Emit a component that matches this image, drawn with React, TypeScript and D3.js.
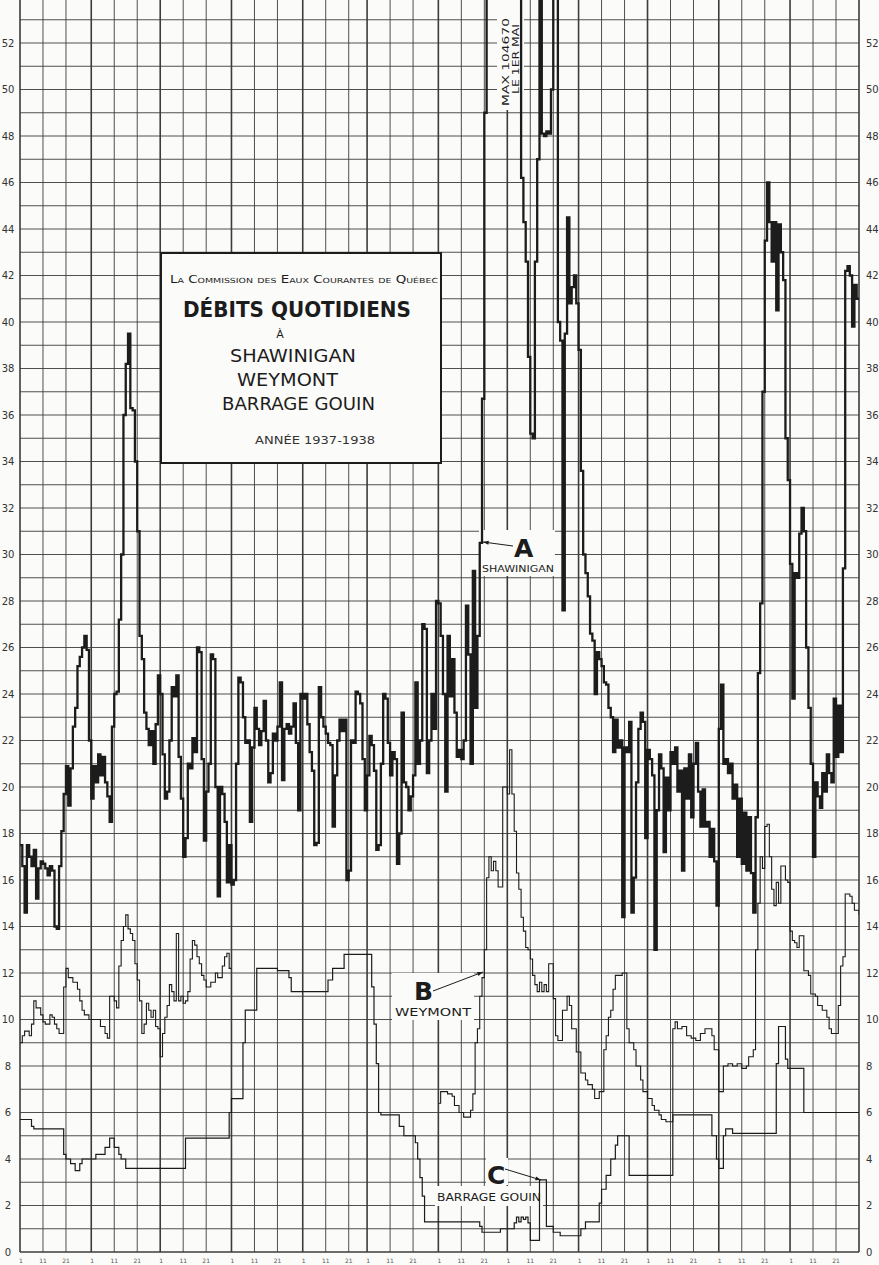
import React from 'react';
import * as d3 from 'd3';

// Day 0 = 1 Oct 1937, day 365 = 1 Oct 1938. Flows in thousands of c.f.s.
const MONTH_STARTS = [0, 31, 61, 92, 123, 151, 182, 212, 243, 273, 304, 335, 365];
const DAY_LABELS = [1, 11, 21];
const Y_LABELS = [0, 2, 4, 6, 8, 10, 12, 14, 16, 18, 20, 22, 24, 26, 28, 30, 32, 34, 36, 38, 40, 42, 44, 46, 48, 50, 52];

// A - Shawinigan (daily, off the chart during the spring flood, max 104670 on 1 May)
const SHAWINIGAN: [number, number][] = [
  [0, 17.5], [1, 16.6], [2, 14.6], [3, 17.5], [4, 17.0], [5, 16.6], [6, 17.3], [7, 15.2], [8, 16.5], [9, 16.8],
  [10, 16.7], [11, 16.5], [12, 16.2], [13, 16.6], [14, 16.4], [15, 14.0], [16, 13.9], [17, 16.6], [18, 18.1], [19, 19.7],
  [20, 20.9], [21, 19.2], [22, 20.8], [23, 22.6], [24, 23.4], [25, 25.2], [26, 25.6], [27, 26.0], [28, 26.5], [29, 25.9],
  [30, 22.0], [31, 19.5], [32, 20.9], [33, 20.2], [34, 21.4], [35, 20.5], [36, 21.3], [37, 20.2], [38, 19.6], [39, 18.5],
  [40, 22.6], [41, 24.0], [42, 24.1], [43, 27.2], [44, 30.0], [45, 36.0], [46, 38.2], [47, 39.5], [48, 36.3], [49, 36.2],
  [50, 34.0], [51, 31.0], [52, 26.5], [53, 25.5], [54, 23.2], [55, 22.5], [56, 21.8], [57, 22.4], [58, 21.0], [59, 22.7],
  [60, 24.8], [61, 24.0], [62, 21.4], [63, 19.5], [64, 19.8], [65, 22.0], [66, 24.3], [67, 23.9], [68, 24.8], [69, 21.3],
  [70, 19.5], [71, 17.0], [72, 17.8], [73, 21.0], [74, 20.8], [75, 22.1], [76, 21.5], [77, 26.0], [78, 25.8], [79, 21.2],
  [80, 17.7], [81, 19.8], [82, 21.0], [83, 25.7], [84, 25.5], [85, 20.0], [86, 15.3], [87, 20.0], [88, 19.7], [89, 18.5],
  [90, 15.9], [91, 17.5], [92, 15.8], [93, 16.0], [94, 21.0], [95, 24.7], [96, 24.5], [97, 23.0], [98, 21.9], [99, 22.0],
  [100, 18.5], [101, 21.7], [102, 23.4], [103, 22.5], [104, 21.8], [105, 22.4], [106, 23.7], [107, 22.0], [108, 20.2], [109, 20.6],
  [110, 22.3], [111, 22.0], [112, 22.6], [113, 24.5], [114, 20.3], [115, 22.5], [116, 22.7], [117, 22.3], [118, 22.6], [119, 23.6],
  [120, 21.9], [121, 19.0], [122, 24.0], [123, 23.8], [124, 24.0], [125, 22.7], [126, 21.5], [127, 20.7], [128, 17.5], [129, 17.6],
  [130, 24.3], [131, 23.0], [132, 22.6], [133, 22.3], [134, 21.9], [135, 21.8], [136, 18.3], [137, 20.5], [138, 22.0], [139, 22.9],
  [140, 22.4], [141, 22.9], [142, 16.0], [143, 16.4], [144, 22.0], [145, 21.9], [146, 24.1], [147, 24.0], [148, 23.6], [149, 21.2],
  [150, 19.0], [151, 20.5], [152, 22.2], [153, 21.8], [154, 20.7], [155, 17.3], [156, 17.5], [157, 21.0], [158, 24.0], [159, 23.8],
  [160, 21.9], [161, 20.5], [162, 21.5], [163, 21.2], [164, 16.7], [165, 18.0], [166, 23.2], [167, 20.2], [168, 20.0], [169, 19.0],
  [170, 19.6], [171, 20.5], [172, 24.5], [173, 21.0], [174, 22.0], [175, 27.0], [176, 26.8], [177, 20.6], [178, 22.0], [179, 24.0],
  [180, 22.5], [181, 28.0], [182, 27.9], [183, 26.5], [184, 24.0], [185, 19.8], [186, 26.5], [187, 23.9], [188, 25.5], [189, 23.2],
  [190, 21.3], [191, 21.6], [192, 21.2], [193, 22.0], [194, 27.8], [195, 25.7], [196, 21.0], [197, 29.3], [198, 23.4], [199, 26.5],
  [200, 30.5], [201, 36.7], [202, 49.0], [203, 58], [204, 66], [205, 74], [206, 82], [207, 88], [208, 93], [209, 97],
  [210, 100], [211, 103], [212, 104.67], [213, 101], [214, 95], [215, 86], [216, 74], [217, 62], [218, 46.2], [219, 44.3],
  [220, 42.6], [221, 38.5], [222, 35.2], [223, 35.0], [224, 42.6], [225, 47.0], [226, 58], [227, 48.1], [228, 48.0], [229, 48.2],
  [230, 48.1], [231, 50.0], [232, 60], [233, 58], [234, 40.0], [235, 39.2], [236, 27.6], [237, 39.5], [238, 44.5], [239, 40.8],
  [240, 41.5], [241, 42.0], [242, 40.8], [243, 38.8], [244, 33.6], [245, 30.0], [246, 29.2], [247, 28.2], [248, 26.6], [249, 26.3],
  [250, 24.0], [251, 25.8], [252, 25.5], [253, 25.2], [254, 24.5], [255, 24.4], [256, 23.4], [257, 23.0], [258, 21.5], [259, 22.9],
  [260, 21.7], [261, 22.0], [262, 14.4], [263, 21.7], [264, 21.5], [265, 22.8], [266, 14.6], [267, 16.1], [268, 20.2], [269, 22.5],
  [270, 23.2], [271, 22.8], [272, 17.8], [273, 21.6], [274, 21.2], [275, 20.5], [276, 13.0], [277, 19.0], [278, 21.4], [279, 20.8],
  [280, 17.2], [281, 20.4], [282, 19.0], [283, 21.5], [284, 21.0], [285, 21.7], [286, 19.8], [287, 20.7], [288, 16.4], [289, 20.8],
  [290, 19.5], [291, 21.4], [292, 18.7], [293, 21.0], [294, 21.9], [295, 19.8], [296, 18.3], [297, 19.9], [298, 18.3], [299, 18.5],
  [300, 17.0], [301, 18.2], [302, 16.8], [303, 14.9], [304, 22.5], [305, 24.4], [306, 21.0], [307, 21.2], [308, 20.6], [309, 21.0],
  [310, 19.5], [311, 20.1], [312, 17.0], [313, 19.5], [314, 16.7], [315, 18.9], [316, 16.4], [317, 18.7], [318, 16.3], [319, 14.6],
  [320, 18.7], [321, 24.9], [322, 27.9], [323, 37.0], [324, 43.5], [325, 46.0], [326, 44.3], [327, 42.6], [328, 44.3], [329, 40.5],
  [330, 44.2], [331, 43.0], [332, 41.8], [333, 35.0], [334, 33.2], [335, 29.6], [336, 23.8], [337, 29.2], [338, 29.0], [339, 30.9],
  [340, 32.0], [341, 31.0], [342, 26.0], [343, 23.4], [344, 21.0], [345, 17.0], [346, 20.2], [347, 19.6], [348, 19.1], [349, 20.6],
  [350, 19.8], [351, 21.4], [352, 20.6], [353, 20.2], [354, 23.8], [355, 21.3], [356, 23.5], [357, 21.5], [358, 29.4], [359, 42.2],
  [360, 42.4], [361, 42.0], [362, 39.8], [363, 41.6], [364, 41.0], [365, 41.0],
];

// B - Weymont, autumn part (no record plotted January to March)
const WEYMONT_FALL: [number, number][] = [
  [0, 9.0], [1, 9.3], [2, 9.5], [4, 9.3], [5, 9.8], [6, 10.8], [7, 10.5], [9, 10.2], [10, 9.9], [11, 9.8],
  [13, 10.2], [14, 10.1], [15, 9.8], [16, 9.6], [17, 9.4], [19, 11.4], [20, 12.2], [21, 11.8], [23, 11.6], [25, 11.3],
  [26, 10.8], [27, 10.4], [28, 10.2], [30, 10.0], [33, 10.0], [35, 9.7], [37, 9.4], [38, 9.2], [39, 11.0], [41, 10.8],
  [42, 10.5], [43, 12.3], [44, 13.4], [45, 14.0], [46, 14.5], [47, 13.9], [48, 13.7], [49, 13.4], [50, 12.4], [51, 11.7],
  [52, 10.8], [53, 9.4], [54, 9.8], [55, 10.7], [56, 10.4], [57, 10.1], [58, 10.4], [59, 9.7], [60, 9.6], [61, 8.4],
  [62, 9.4], [63, 10.1], [64, 10.6], [65, 11.5], [66, 11.2], [67, 10.8], [68, 13.7], [69, 10.8], [70, 11.0], [71, 10.7],
  [72, 10.8], [73, 11.2], [74, 12.6], [75, 13.4], [76, 13.2], [77, 12.7], [78, 12.4], [79, 11.9], [80, 11.7], [81, 11.4],
  [83, 11.6], [84, 11.6], [85, 12.0], [86, 11.8], [88, 12.3], [89, 12.7], [90, 12.85], [91, 12.2], [92, 12.2],
];

// B - Weymont, April to September
const WEYMONT_SPRING: [number, number][] = [
  [182, 6.4], [183, 6.9], [186, 6.8], [188, 6.7], [189, 6.3], [191, 6.0], [193, 5.8], [196, 6.1], [197, 6.8], [198, 9.0],
  [199, 9.6], [200, 11.0], [201, 11.8], [202, 13.0], [203, 16.1], [204, 17.0], [205, 16.4], [206, 16.8], [207, 16.4], [208, 15.7],
  [210, 20.0], [212, 19.7], [213, 21.6], [214, 19.7], [215, 18.1], [216, 16.3], [217, 15.6], [218, 14.4], [219, 13.8], [220, 13.1],
  [221, 13.0], [222, 12.6], [223, 11.9], [224, 11.5], [225, 11.2], [226, 11.6], [227, 11.2], [228, 11.5], [229, 11.2], [230, 12.4],
  [232, 10.9], [233, 9.3], [234, 9.1], [236, 10.4], [238, 11.0], [239, 10.6], [240, 9.6], [242, 8.6], [244, 7.7], [246, 7.4],
  [247, 7.2], [249, 7.0], [250, 6.6], [252, 6.9], [254, 8.7], [255, 9.3], [256, 10.1], [257, 10.4], [258, 11.3], [259, 11.9],
  [262, 12.0], [264, 9.6], [265, 9.0], [267, 8.7], [268, 8.0], [270, 7.4], [271, 6.9], [273, 6.6], [275, 6.3], [276, 6.1],
  [278, 5.9], [279, 5.7], [281, 5.6], [284, 9.6], [285, 9.9], [286, 9.6], [288, 9.7], [290, 9.3], [292, 9.2], [294, 9.1],
  [296, 9.4], [298, 9.6], [301, 9.3], [302, 8.7], [304, 6.9], [306, 8.0], [308, 8.1], [310, 8.0], [312, 8.1], [314, 7.9],
  [316, 8.0], [317, 8.4], [319, 8.7], [320, 13.0], [321, 15.0], [322, 17.0], [323, 16.5], [324, 18.3], [325, 18.4], [326, 17.0],
  [327, 15.6], [328, 14.9], [329, 15.9], [330, 15.0], [331, 16.6], [333, 16.0], [334, 15.9], [335, 13.8], [336, 13.4], [337, 13.3],
  [338, 13.1], [339, 13.6], [341, 12.1], [343, 11.9], [344, 11.1], [346, 11.0], [347, 10.6], [349, 10.4], [351, 10.1], [352, 9.6],
  [353, 9.4], [356, 10.6], [357, 12.3], [358, 12.7], [359, 15.4], [361, 15.3], [362, 15.0], [363, 14.7], [365, 14.5],
];

// C - Barrage Gouin (regulated outflow)
const GOUIN: [number, number][] = [
  [0, 5.7], [5, 5.4], [6, 5.3], [19, 4.2], [20, 4.0], [22, 3.8], [24, 3.5], [26, 3.8], [27, 4.0], [33, 4.2],
  [37, 4.5], [39, 4.9], [41, 4.5], [43, 4.2], [44, 4.0], [46, 3.6], [72, 4.9], [91, 6.0], [92, 6.6], [97, 9.0],
  [98, 10.4], [103, 12.2], [112, 12.1], [117, 11.8], [118, 11.2], [134, 11.7], [136, 12.2], [141, 12.8], [153, 11.4], [154, 9.8],
  [155, 8.1], [156, 6.0], [157, 5.9], [165, 5.4], [167, 5.0], [172, 4.7], [173, 4.0], [174, 3.2], [175, 2.4], [176, 1.3],
  [200, 1.1], [201, 0.85], [209, 1.0], [215, 1.25], [216, 1.5], [217, 1.3], [218, 1.5], [219, 1.4], [220, 1.5], [221, 1.25],
  [222, 0.5], [226, 3.1], [229, 1.1], [232, 0.85], [235, 0.7], [244, 1.0], [246, 1.3], [252, 2.1], [253, 2.7], [255, 3.3],
  [257, 4.0], [259, 4.6], [260, 5.0], [265, 3.3], [284, 5.9], [301, 5.0], [303, 4.0], [304, 3.6], [306, 5.0], [307, 5.3],
  [310, 5.1], [329, 8.1], [330, 9.7], [333, 8.3], [334, 7.9], [341, 6.0], [365, 6.0],
];

const W = 879;
const H = 1265;
const INK = '#1c1c1c';
const FONT = '"DejaVu Sans", "Liberation Sans", sans-serif';

export default function App() {
  const x = d3.scaleLinear().domain([0, 365]).range([20, 859]);
  const y = d3.scaleLinear().domain([0, 52]).range([1252, 43]);
  const top = y.invert(0);

  const line = d3.line<[number, number]>()
    .x(d => x(d[0]))
    .y(d => y(d[1]))
    .curve(d3.curveStepAfter);

  const hLines = d3.range(0, Math.floor(top) + 1);
  const vLines: { day: number; major: boolean }[] = [];
  MONTH_STARTS.forEach((m, i) => {
    vLines.push({ day: m, major: true });
    if (i < MONTH_STARTS.length - 1) {
      vLines.push({ day: m + 10, major: false });
      vLines.push({ day: m + 20, major: false });
    }
  });

  const arrow = (x1: number, y1: number, x2: number, y2: number) => {
    const a = Math.atan2(y2 - y1, x2 - x1);
    const s = 6;
    const p1 = [x2 - s * Math.cos(a - 0.35), y2 - s * Math.sin(a - 0.35)];
    const p2 = [x2 - s * Math.cos(a + 0.35), y2 - s * Math.sin(a + 0.35)];
    return (
      <g>
        <line x1={x1} y1={y1} x2={x2} y2={y2} stroke={INK} strokeWidth={1} />
        <path d={`M${x2},${y2}L${p1[0]},${p1[1]}L${p2[0]},${p2[1]}Z`} fill={INK} />
      </g>
    );
  };

  return (
    <div style={{ position: 'absolute', left: 0, top: 0 }}>
      <svg width={W} height={H} style={{ display: 'block', background: '#fbfbf9' }} fontFamily={FONT}>
        <defs>
          <clipPath id="plot">
            <rect x={x(0)} y={0} width={x(365) - x(0)} height={y(0)} />
          </clipPath>
        </defs>

        {/* grid */}
        <g stroke="#3c3c3c">
          {hLines.map(v => (
            <line key={'h' + v} x1={x(0)} x2={x(365)} y1={y(v)} y2={y(v)} strokeWidth={v === 0 ? 1.6 : 0.9} />
          ))}
          {vLines.map(d => (
            <line key={'v' + d.day} x1={x(d.day)} x2={x(d.day)} y1={0} y2={y(0)} strokeWidth={d.major ? 1.6 : 0.9} />
          ))}
        </g>

        {/* left and right value labels */}
        <g fontSize={10} fill="#333">
          {Y_LABELS.map(v => (
            <text key={'l' + v} x={8} y={y(v) + 3.5} textAnchor="middle">{v}</text>
          ))}
          {Y_LABELS.map(v => (
            <text key={'r' + v} x={866} y={y(v) + 3.5} textAnchor="start">{v}</text>
          ))}
        </g>

        {/* day labels along the bottom */}
        <g fontSize={6} fill="#555" textAnchor="middle">
          {MONTH_STARTS.slice(0, 12).map(m => DAY_LABELS.map(d => (
            <text key={'d' + m + '-' + d} x={x(m + d - 1) + (d === 1 ? 1 : 0)} y={1263}>{d}</text>
          )))}
        </g>

        {/* white label boxes */}
        <g fill="#fbfbf9">
          <rect x={479} y={530} width={76} height={46} />
          <rect x={392} y={973} width={82} height={47} />
          <rect x={486} y={1158} width={22} height={27} />
          <rect x={435} y={1186} width={108} height={20} />
          <rect x={497} y={0} width={27} height={110} />
        </g>

        {/* series */}
        <g clipPath="url(#plot)" fill="none" strokeLinejoin="miter">
          <path d={line(GOUIN) || ''} stroke={INK} strokeWidth={1.2} />
          <path d={line(WEYMONT_FALL) || ''} stroke={INK} strokeWidth={1.1} />
          <path d={line(WEYMONT_SPRING) || ''} stroke={INK} strokeWidth={1.1} />
          <path d={line(SHAWINIGAN) || ''} stroke={INK} strokeWidth={2.3} />
        </g>

        {/* title box */}
        <rect x={161} y={253} width={280} height={210} fill="#fbfbf9" stroke={INK} strokeWidth={2} />
        <g fill={INK} textAnchor="start">
          <text x={170} y={283} fontSize={10} style={{ fontVariant: 'small-caps' }} textLength={268} lengthAdjust="spacingAndGlyphs">
            La Commission des Eaux Courantes de Québec
          </text>
          <text x={183} y={317} fontSize={21} fontWeight="bold" textLength={228} lengthAdjust="spacingAndGlyphs">DÉBITS QUOTIDIENS</text>
          <text x={280} y={338} fontSize={11} textAnchor="middle">À</text>
          <text x={230} y={362} fontSize={17} textLength={126} lengthAdjust="spacingAndGlyphs">SHAWINIGAN</text>
          <text x={237} y={386} fontSize={17} textLength={101} lengthAdjust="spacingAndGlyphs">WEYMONT</text>
          <text x={222} y={410} fontSize={17} textLength={153} lengthAdjust="spacingAndGlyphs">BARRAGE GOUIN</text>
          <text x={255} y={444} fontSize={11} fill="#333" textLength={120} lengthAdjust="spacingAndGlyphs">ANNÉE 1937-1938</text>
        </g>

        {/* peak note */}
        <g transform="translate(509,106) rotate(-90)" fill={INK} fontSize={9}>
          <text x={0} y={0} textLength={88} lengthAdjust="spacingAndGlyphs">MAX 104670</text>
          <text x={12} y={10} textLength={70} lengthAdjust="spacingAndGlyphs">LE 1ER MAI</text>
        </g>

        {/* series labels */}
        <g fill={INK}>
          <text x={514} y={557} fontSize={25} fontWeight="bold">A</text>
          <text x={482} y={572} fontSize={8.5} textLength={72} lengthAdjust="spacingAndGlyphs">SHAWINIGAN</text>
          {arrow(513, 546, 483, 542)}
          <text x={414} y={1000} fontSize={25} fontWeight="bold">B</text>
          <text x={395} y={1016} fontSize={10} textLength={76} lengthAdjust="spacingAndGlyphs">WEYMONT</text>
          {arrow(433, 991, 483, 972)}
          <text x={487} y={1184} fontSize={25} fontWeight="bold">C</text>
          <text x={437} y={1201} fontSize={10} textLength={104} lengthAdjust="spacingAndGlyphs">BARRAGE GOUIN</text>
          {arrow(505, 1169, 541, 1180)}
        </g>
      </svg>
    </div>
  );
}
